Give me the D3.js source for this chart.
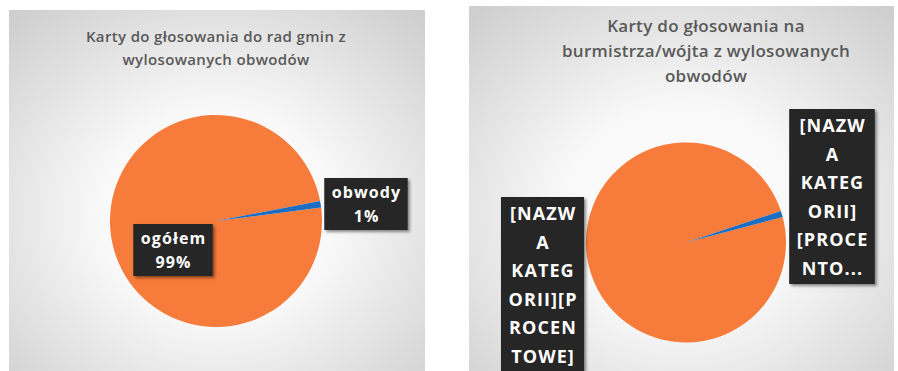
<!DOCTYPE html>
<html>
<head>
<meta charset="utf-8">
<script src="https://cdn.jsdelivr.net/npm/d3@7"></script>
<style>
  html, body { margin: 0; padding: 0; background: #ffffff; }
  svg { display: block; }
</style>
</head>
<body>
<svg id="chart" width="898" height="371"></svg>
<script>
// ---- data ----
const leftTitle = ["Karty do głosowania do rad gmin z", "wylosowanych obwodów"];
const leftCategories = ["ogółem", "obwody"];
const leftValues = [99, 1];
const leftLabels = [["ogółem", "99%"], ["obwody", "1%"]];

const rightTitle = ["Karty do głosowania na", "burmistrza/wójta z wylosowanych", "obwodów"];
const rightCategories = ["ogółem", "obwody"];
const rightValues = [99, 1];
const rightLabels = [
  ["[NAZW", "A", "KATEG", "ORII][P", "ROCEN", "TOWE]"],
  ["[NAZW", "A", "KATEG", "ORII]", "[PROCE", "NTO..."]
];

const sliceColors = ["#f77b3a", "#1b6ec2"];

// ---- layout ----
const panels = [
  {
    box: { x: 9, y: 10, w: 416, h: 370 },
    title: leftTitle, titleX: 216, titleY: 38, titleSize: 15, titleGap: 23, titleSpacing: 0.35,
    categories: leftCategories, values: leftValues, labels: leftLabels,
    cx: 216, cy: 221, r: 106, startDeg: 82.7,
    labelSize: 16, labelGap: 24, labelSpacing: 1.1,
    labelOffsets: [[-43, 29], [150, -17]]
  },
  {
    box: { x: 469, y: 6, w: 425, h: 375 },
    title: rightTitle, titleX: 706, titleY: 27, titleSize: 17, titleGap: 25, titleSpacing: 0.3,
    categories: rightCategories, values: rightValues, labels: rightLabels,
    cx: 686, cy: 242.5, r: 100, startDeg: 75.2,
    labelSize: 18, labelGap: 28.5, labelSpacing: 1.1,
    labelOffsets: [[-143.5, 42], [146, -46]]
  }
];

const svg = d3.select("#chart");
const defs = svg.append("defs");

const grad = defs.append("radialGradient")
  .attr("id", "panelBg").attr("cx", "50%").attr("cy", "55%").attr("r", "72%");
grad.append("stop").attr("offset", "0%").attr("stop-color", "#ffffff");
grad.append("stop").attr("offset", "40%").attr("stop-color", "#f8f8f8");
grad.append("stop").attr("offset", "100%").attr("stop-color", "#cfcfcf");

const shadow = defs.append("filter").attr("id", "boxShadow")
  .attr("x", "-20%").attr("y", "-20%").attr("width", "150%").attr("height", "150%");
shadow.append("feDropShadow")
  .attr("dx", 2).attr("dy", 2).attr("stdDeviation", 1.6)
  .attr("flood-color", "#000").attr("flood-opacity", 0.45);

const pie = d3.pie().sort(null).value(d => d);

panels.forEach(p => {
  const g = svg.append("g");

  g.append("rect")
    .attr("x", p.box.x).attr("y", p.box.y)
    .attr("width", p.box.w).attr("height", p.box.h)
    .attr("fill", "url(#panelBg)");

  g.append("text")
    .attr("text-anchor", "middle")
    .attr("font-family", "'Open Sans', sans-serif")
    .attr("font-weight", 600)
    .attr("font-size", p.titleSize)
    .attr("letter-spacing", p.titleSpacing)
    .attr("fill", "#595959")
    .selectAll("tspan").data(p.title).join("tspan")
    .attr("x", p.titleX)
    .attr("y", (d, i) => p.titleY + i * p.titleGap)
    .attr("dominant-baseline", "middle")
    .text(d => d);

  const start = p.startDeg * Math.PI / 180;
  const arcs = pie.startAngle(start).endAngle(start + 2 * Math.PI)(p.values);
  const arc = d3.arc().innerRadius(0).outerRadius(p.r);

  g.append("g").attr("transform", `translate(${p.cx},${p.cy})`)
    .selectAll("path").data(arcs).join("path")
    .attr("d", arc)
    .attr("fill", (d, i) => sliceColors[i]);

  // data labels: dark boxes with white text
  arcs.forEach((a, i) => {
    const lines = p.labels[i];
    const [ox, oy] = p.labelOffsets[i];
    const lx = p.cx + ox, ly = p.cy + oy;
    const lg = g.append("g");
    const rect = lg.append("rect").attr("fill", "#262626").attr("filter", "url(#boxShadow)");
    const t = lg.append("text")
      .attr("text-anchor", "middle")
      .attr("font-family", "'Open Sans', sans-serif")
      .attr("font-weight", "bold")
      .attr("font-size", p.labelSize)
      .attr("letter-spacing", p.labelSpacing)
      .attr("fill", "#ffffff");
    const n = lines.length;
    t.selectAll("tspan").data(lines).join("tspan")
      .attr("x", lx + p.labelSpacing / 2)
      .attr("y", (d, k) => ly + (k - (n - 1) / 2) * p.labelGap)
      .attr("dominant-baseline", "central")
      .text(d => d);
    const bb = t.node().getBBox();
    const padX = 7, padY = 4;
    const h = n * p.labelGap + padY * 2 - 4;
    rect.attr("x", lx - bb.width / 2 - padX)
      .attr("y", ly - h / 2)
      .attr("width", bb.width + padX * 2)
      .attr("height", h);
  });
});
</script>
</body>
</html>
